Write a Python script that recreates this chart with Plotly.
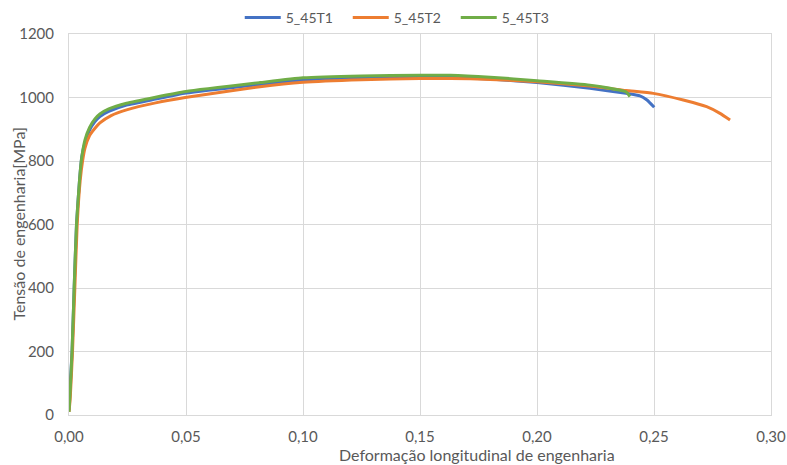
import plotly.graph_objects as go

# ---- data ----
series_names = ["5_45T1", "5_45T2", "5_45T3"]
series_colors = ["#4472C4", "#ED7D31", "#70AD47"]

t1_strain = [0.0, 0.0004, 0.0013, 0.0022, 0.0032, 0.0045, 0.0055, 0.0068, 0.0088, 0.011, 0.0132,
             0.017, 0.0246, 0.037, 0.05, 0.0816, 0.10, 0.125, 0.15, 0.1585, 0.18, 0.20, 0.2226, 0.238,
             0.244, 0.247, 0.2501]
t1_stress = [15, 80, 200, 400, 600, 740, 815, 858, 897, 923, 940,
             956, 976, 995, 1014, 1041, 1055, 1062, 1066, 1065, 1058, 1047, 1029, 1013,
             1005, 992, 969]

t2_strain = [0.0, 0.0005, 0.0015, 0.0025, 0.0035, 0.0048, 0.0058, 0.0068, 0.0088, 0.0111,
             0.0132, 0.018, 0.0246, 0.037, 0.0496, 0.0816, 0.10, 0.125, 0.15, 0.163, 0.18, 0.20, 0.2226,
             0.238, 0.2497, 0.2625, 0.2725, 0.2782, 0.2825]
t2_stress = [10, 50, 200, 400, 600, 740, 800, 840, 880, 903,
             920, 943, 961, 983, 1000, 1034, 1048, 1056, 1060, 1060, 1057, 1050, 1036,
             1022, 1013, 992, 971, 950, 929]

t3_strain = [0.0, 0.0004, 0.0013, 0.0022, 0.0032, 0.0045, 0.0053, 0.0068, 0.0088, 0.011, 0.0132,
             0.017, 0.0246, 0.037, 0.05, 0.0816, 0.10, 0.125, 0.15, 0.163, 0.18, 0.20, 0.2226, 0.238,
             0.2397]
t3_stress = [10, 60, 200, 400, 600, 740, 803, 866, 906, 932, 948,
             964, 982, 1001, 1019, 1047, 1062, 1068, 1070, 1070, 1064, 1053, 1039, 1018,
             1003]

x_tick_values = [0.0, 0.05, 0.10, 0.15, 0.20, 0.25, 0.30]
x_tick_labels = ["0,00", "0,05", "0,10", "0,15", "0,20", "0,25", "0,30"]
y_tick_values = [0, 200, 400, 600, 800, 1000, 1200]

x_title = "Deformação longitudinal de engenharia"
y_title = "Tensão de engenharia[MPa]"

# ---- figure ----
FONT = "Lato, 'Open Sans', sans-serif"
TXT = "#595959"
GRID = "#D9D9D9"

fig = go.Figure()
for name, color, xs, ys in zip(series_names, series_colors,
                               [t1_strain, t2_strain, t3_strain],
                               [t1_stress, t2_stress, t3_stress]):
    fig.add_trace(go.Scatter(x=xs, y=ys, mode="lines", name=name,
                             line=dict(color=color, width=3, shape="spline", smoothing=0.5)))

fig.update_layout(
    width=787, height=465,
    margin=dict(l=69, r=16, t=34, b=50, autoexpand=False),
    paper_bgcolor="white", plot_bgcolor="white",
    font=dict(family=FONT, size=15, color=TXT),
    showlegend=True,
    legend=dict(orientation="h", x=0.474, xanchor="center", y=1.0, yanchor="bottom",
                font=dict(size=14, color=TXT), bgcolor="rgba(0,0,0,0)",
                itemwidth=36, entrywidth=57, tracegroupgap=0),
    xaxis=dict(range=[0, 0.30], tickvals=x_tick_values, ticktext=x_tick_labels,
               showgrid=True, gridcolor=GRID, gridwidth=1, zeroline=False,
               showline=True, linecolor=GRID, linewidth=1, mirror=True,
               ticks="", ticklabelstandoff=8, tickfont=dict(size=15, color=TXT), fixedrange=True),
    yaxis=dict(range=[0, 1200], tickvals=y_tick_values,
               showgrid=True, gridcolor=GRID, gridwidth=1, zeroline=False,
               showline=True, linecolor=GRID, linewidth=1, mirror=True,
               ticks="", ticklabelstandoff=11, tickfont=dict(size=15, color=TXT), fixedrange=True),
    annotations=[
        dict(text=x_title, xref="paper", yref="paper", x=(477 - 69) / 702, y=0,
             yshift=-39, xanchor="center", yanchor="middle", showarrow=False,
             font=dict(size=16, color=TXT, family=FONT)),
        dict(text=y_title, xref="paper", yref="paper", x=0, xshift=-51, y=0.5,
             xanchor="center", yanchor="middle", textangle=-90, showarrow=False,
             font=dict(size=16, color=TXT, family=FONT)),
    ],
)

fig.write_html("out.html")
